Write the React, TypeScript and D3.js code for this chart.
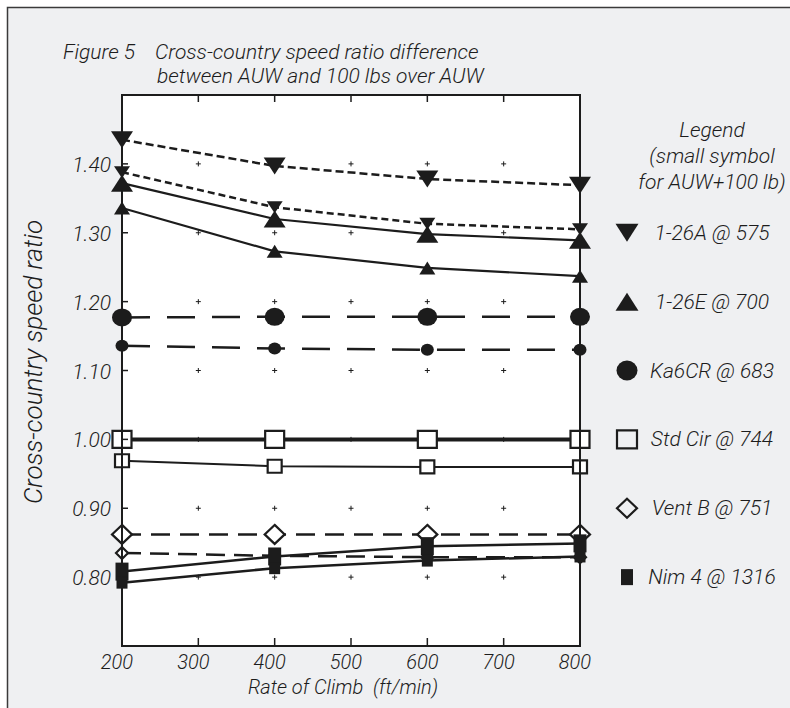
import React, { useEffect, useRef } from 'react';
import * as d3 from 'd3';

// rate of climb (ft/min) where each glider was computed
const climbRates = [200, 400, 600, 800];
const xTicks = [200, 300, 400, 500, 600, 700, 800];
const yTicks = [0.8, 0.9, 1.0, 1.1, 1.2, 1.3, 1.4];

// cross-country speed ratio, AUW and AUW+100 lb
const a26Auw = [1.435, 1.397, 1.378, 1.369];
const a26Plus = [1.388, 1.337, 1.313, 1.305];
const e26Auw = [1.372, 1.32, 1.298, 1.289];
const e26Plus = [1.336, 1.273, 1.249, 1.237];
const ka6Auw = [1.177, 1.178, 1.178, 1.178];
const ka6Plus = [1.136, 1.132, 1.13, 1.13];
const stdCirAuw = [1.0, 1.0, 1.0, 1.0];
const stdCirPlus = [0.969, 0.961, 0.96, 0.96];
const ventBAuw = [0.862, 0.862, 0.862, 0.862];
const ventBPlus = [0.835, 0.831, 0.829, 0.829];
const nim4Auw = [0.808, 0.83, 0.845, 0.849];
const nim4Plus = [0.792, 0.813, 0.824, 0.83];

const gliders = ['1-26A @ 575', '1-26E @ 700', 'Ka6CR @ 683', 'Std Cir @ 744', 'Vent B @ 751', 'Nim 4 @ 1316'];
const gliderShapes = ['down', 'up', 'circle', 'square', 'diamond', 'block'];

const FONT = 'Roboto, "Liberation Sans", sans-serif';
const INK = '#1c1c1c';

const shapePath = (kind: string, w: number, h: number) => {
  const a = w / 2, b = h / 2;
  switch (kind) {
    case 'down': return `M${-a},${-b}L${a},${-b}L0,${b}Z`;
    case 'up': return `M${-a},${b}L${a},${b}L0,${-b}Z`;
    case 'circle': return `M${-a},0A${a},${b} 0 1,0 ${a},0A${a},${b} 0 1,0 ${-a},0Z`;
    case 'diamond': return `M0,${-b}L${a},0L0,${b}L${-a},0Z`;
    default: return `M${-a},${-b}H${a}V${b}H${-a}Z`;
  }
};
const isOpen = (kind: string) => kind === 'square' || kind === 'diamond';

const series = [
  { values: a26Auw, shape: 'down', w: 22, h: 17, dash: '8,4', lw: 2.5 },
  { values: a26Plus, shape: 'down', w: 16, h: 12, dash: '7,4', lw: 2.5 },
  { values: e26Auw, shape: 'up', w: 22, h: 17, dash: null, lw: 2.2 },
  { values: e26Plus, shape: 'up', w: 16, h: 13, dash: null, lw: 2.2 },
  { values: ka6Auw, shape: 'circle', w: 20, h: 18, dash: '28,17', lw: 2.5 },
  { values: ka6Plus, shape: 'circle', w: 13, h: 12, dash: '28,17', lw: 2.5 },
  { values: stdCirAuw, shape: 'square', w: 19, h: 17, dash: null, lw: 4 },
  { values: stdCirPlus, shape: 'square', w: 14, h: 13, dash: null, lw: 2 },
  { values: ventBAuw, shape: 'diamond', w: 20, h: 19, dash: '19,10', lw: 2.5 },
  { values: ventBPlus, shape: 'diamond', w: 12, h: 12, dash: '19,9', lw: 2.5 },
  { values: nim4Auw, shape: 'block', w: 13, h: 18, dash: null, lw: 2.5 },
  { values: nim4Plus, shape: 'block', w: 11, h: 12, dash: null, lw: 2.5 },
];

const legendSizes: Record<string, [number, number]> = {
  down: [23, 18], up: [23, 18], circle: [21, 20], square: [20, 18], diamond: [20, 19], block: [12, 16],
};

const App: React.FC = () => {
  const svgRef = useRef<SVGSVGElement>(null);

  useEffect(() => {
    if (!svgRef.current) return;
    const W = 790, H = 708;
    const plot = { left: 122, right: 580, top: 95, bottom: 646 };

    const svg = d3.select(svgRef.current).attr('width', W).attr('height', H);
    svg.selectAll('*').remove();

    // outer frame
    svg.append('rect')
      .attr('x', 7.5).attr('y', 7.5).attr('width', W + 20).attr('height', H + 20)
      .attr('fill', '#eff0f2').attr('stroke', '#3a3a3a').attr('stroke-width', 1.5);

    const x = d3.scaleLinear().domain([200, 800]).range([plot.left, plot.right]);
    const y = d3.scaleLinear().domain([0.7, 1.5]).range([plot.bottom, plot.top]);

    svg.append('rect')
      .attr('x', plot.left).attr('y', plot.top)
      .attr('width', plot.right - plot.left).attr('height', plot.bottom - plot.top)
      .attr('fill', '#fff');

    // little + marks inside the plot
    const plus = svg.append('g').attr('stroke', INK).attr('stroke-width', 1);
    xTicks.slice(1, -1).forEach(xv => {
      yTicks.forEach(yv => {
        const cx = x(xv), cy = y(yv);
        plus.append('path').attr('d', `M${cx - 2.5},${cy}H${cx + 2.5}M${cx},${cy - 2.5}V${cy + 2.5}`);
      });
    });

    const line = d3.line<number>()
      .x((_, i) => x(climbRates[i]))
      .y(d => y(d));

    series.forEach(s => {
      svg.append('path')
        .attr('d', line(s.values))
        .attr('fill', 'none')
        .attr('stroke', INK)
        .attr('stroke-width', s.lw)
        .attr('stroke-dasharray', s.dash)
        .attr('stroke-linejoin', 'round');
    });

    series.forEach(s => {
      svg.append('g')
        .selectAll('path')
        .data(s.values)
        .enter()
        .append('path')
        .attr('transform', (d, i) => `translate(${x(climbRates[i])},${y(d)})`)
        .attr('d', shapePath(s.shape, s.w, s.h))
        .attr('fill', isOpen(s.shape) ? '#fff' : INK)
        .attr('stroke', isOpen(s.shape) ? INK : 'none')
        .attr('stroke-width', 2.2);
    });

    // plot border + inward ticks
    const axis = svg.append('g').attr('stroke', INK).attr('fill', 'none');
    axis.append('rect')
      .attr('x', plot.left).attr('y', plot.top)
      .attr('width', plot.right - plot.left).attr('height', plot.bottom - plot.top)
      .attr('stroke-width', 2);
    xTicks.slice(1, -1).forEach(xv => {
      axis.append('line').attr('x1', x(xv)).attr('x2', x(xv))
        .attr('y1', plot.bottom).attr('y2', plot.bottom - 8).attr('stroke-width', 1.5);
      axis.append('line').attr('x1', x(xv)).attr('x2', x(xv))
        .attr('y1', plot.top).attr('y2', plot.top + 7).attr('stroke-width', 1.5);
    });
    yTicks.forEach(yv => {
      axis.append('line').attr('x1', plot.left).attr('x2', plot.left + 6)
        .attr('y1', y(yv)).attr('y2', y(yv)).attr('stroke-width', 1.5);
    });

    // text helper: light italic everywhere
    const txt = (sx: number, sy: number, s: string, size: number, anchor = 'start') =>
      svg.append('text').attr('x', sx).attr('y', sy).attr('text-anchor', anchor)
        .attr('font-family', FONT).attr('font-style', 'italic').attr('font-weight', 300)
        .attr('font-size', size).attr('fill', INK).text(s);

    // tick labels
    xTicks.forEach(d => txt(x(d) - 5, plot.bottom + 23, String(d), 20, 'middle'));
    yTicks.forEach(d => txt(plot.left - 11, y(d) + 8, d.toFixed(2), 21, 'end'));

    // titles
    txt(63, 59, 'Figure 5', 21);
    txt(155, 59, 'Cross-country speed ratio difference', 21);
    txt(157, 83, 'between AUW and 100 lbs over AUW', 21);
    txt(248, 694, 'Rate of Climb  (ft/min)', 20).attr('xml:space', 'preserve');

    svg.append('text')
      .attr('transform', 'translate(42,362) rotate(-90)')
      .attr('text-anchor', 'middle')
      .attr('font-family', FONT).attr('font-style', 'italic').attr('font-weight', 300)
      .attr('font-size', 26).attr('fill', INK).text('Cross-country speed ratio');

    // legend
    txt(712, 137, 'Legend', 21, 'middle');
    txt(712, 163, '(small symbol', 21, 'middle');
    txt(712, 189, 'for AUW+100 lb)', 21, 'middle');
    gliders.forEach((name, i) => {
      const ly = y(1.3) + i * (y(1.2) - y(1.3));
      const kind = gliderShapes[i];
      const [w, h] = legendSizes[kind];
      svg.append('path')
        .attr('transform', `translate(627,${ly})`)
        .attr('d', shapePath(kind, w, h))
        .attr('fill', isOpen(kind) ? 'none' : INK)
        .attr('stroke', isOpen(kind) ? INK : 'none')
        .attr('stroke-width', 2.2);
      txt(712, ly + 7, name, 21, 'middle');
    });
  }, []);

  return <svg ref={svgRef} style={{ position: 'absolute', left: 0, top: 0 }} />;
};

export default App;
